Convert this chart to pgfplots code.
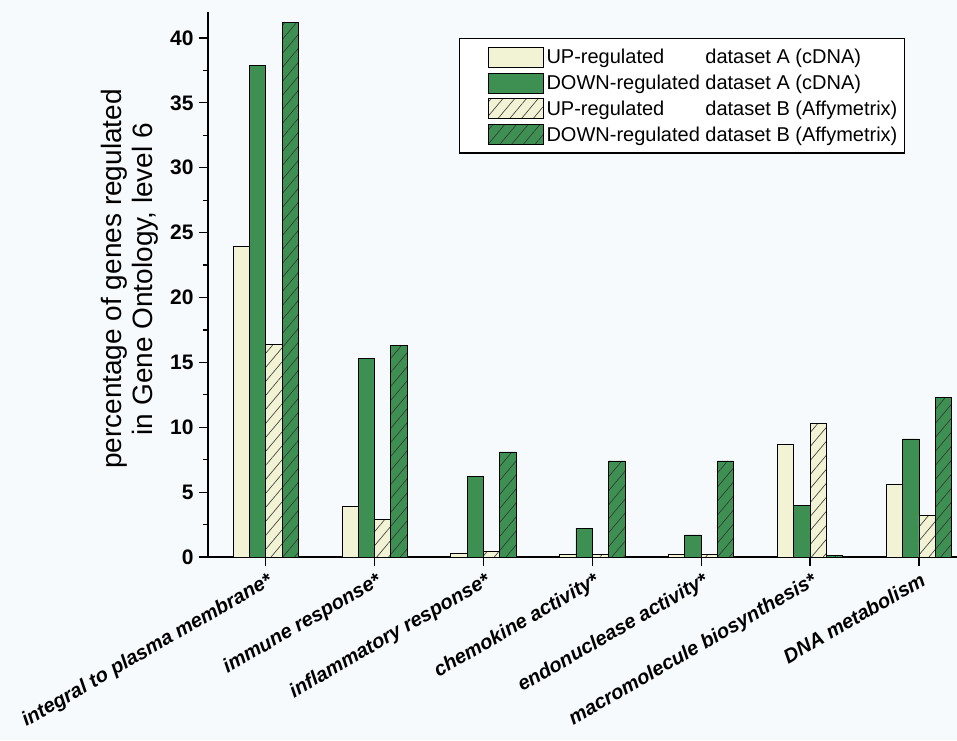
\documentclass[border=0pt]{standalone}
\usepackage{pgfplots}
\pgfplotsset{compat=1.18}
\usepackage{fontspec}
\setmainfont{Liberation Sans}
\usetikzlibrary{patterns.meta}
\definecolor{pale}{RGB}{242,242,212}
\definecolor{dgreen}{RGB}{62,144,82}
\definecolor{bg}{RGB}{247,250,253}
\tikzset{hatch/.style={postaction={pattern={Lines[angle=50,distance=9pt,line width=0.6pt]},pattern color=black!80}}}
\begin{document}
\begin{tikzpicture}
\path[use as bounding box, fill=bg] (-208pt,-183pt) rectangle (749pt,557pt);
\begin{axis}[
  at={(0pt,0pt)}, anchor=south west,
  scale only axis, width=749pt, height=545pt,
  xmin=-0.53, xmax=6.35, ymin=0, ymax=42,
  axis x line*=bottom, axis y line*=left,
  axis line style={line width=1.2pt},
  xtick={0,1,2,3,4,5,6},
  xticklabels={integral to plasma membrane*, immune response*, inflammatory response*, chemokine activity*, endonuclease activity*, macromolecule biosynthesis*, DNA metabolism},
  xticklabel style={rotate=30, anchor=north east, font=\fontsize{20}{22}\selectfont\bfseries\itshape, inner sep=2pt, yshift=-3pt},
  ytick={0,5,...,40},
  minor y tick num=1,
  tick align=outside,
  major tick length=9pt, minor tick length=5pt,
  tick style={line width=1.2pt, black},
  yticklabel style={font=\fontsize{21}{24}\selectfont\bfseries, xshift=-2pt},
  /pgf/number format/assume math mode=true,
  ylabel={percentage of genes regulated\\in Gene Ontology, level 6},
  ylabel style={font=\fontsize{28}{31}\selectfont, align=center, at={(axis description cs:-0.104,0.51)}, anchor=center},
  bar width=0.15,
  legend style={at={(axis description cs:0.335,0.952)}, anchor=north west, draw=black, line width=1.2pt, fill=white, font=\fontsize{20}{22}\selectfont, inner xsep=4pt, inner ysep=8pt, row sep=5pt, legend cell align=left, nodes={inner xsep=3pt}},
  legend image code/.code={\node[inner sep=0pt, minimum size=0pt, draw=none, fill=none] at (0pt,0pt) {}; \draw[#1, line width=0.8pt] (25pt,-10pt) rectangle (80pt,10pt);},
]
\addplot[ybar, bar shift=-0.225, fill=pale, draw=black, line width=0.8pt] coordinates {(0,23.9) (1,3.9) (2,0.3) (3,0.2) (4,0.2) (5,8.7) (6,5.6)};
\addplot[ybar, bar shift=-0.075, fill=dgreen, draw=black, line width=0.8pt] coordinates {(0,37.9) (1,15.3) (2,6.2) (3,2.2) (4,1.7) (5,4.0) (6,9.1)};
\addplot[ybar, bar shift=0.075, fill=pale, draw=black, line width=0.8pt, hatch] coordinates {(0,16.4) (1,2.9) (2,0.4) (3,0.2) (4,0.2) (5,10.3) (6,3.2)};
\addplot[ybar, bar shift=0.225, fill=dgreen, draw=black, line width=0.8pt, hatch] coordinates {(0,41.2) (1,16.3) (2,8.1) (3,7.4) (4,7.4) (5,0.15) (6,12.3)};
\legend{\rlap{UP-regulated}\phantom{DOWN-regulated} dataset A (cDNA),
DOWN-regulated dataset A (cDNA),
\rlap{UP-regulated}\phantom{DOWN-regulated} dataset B (Affymetrix),
DOWN-regulated dataset B (Affymetrix)}
\end{axis}
\end{tikzpicture}
\end{document}
